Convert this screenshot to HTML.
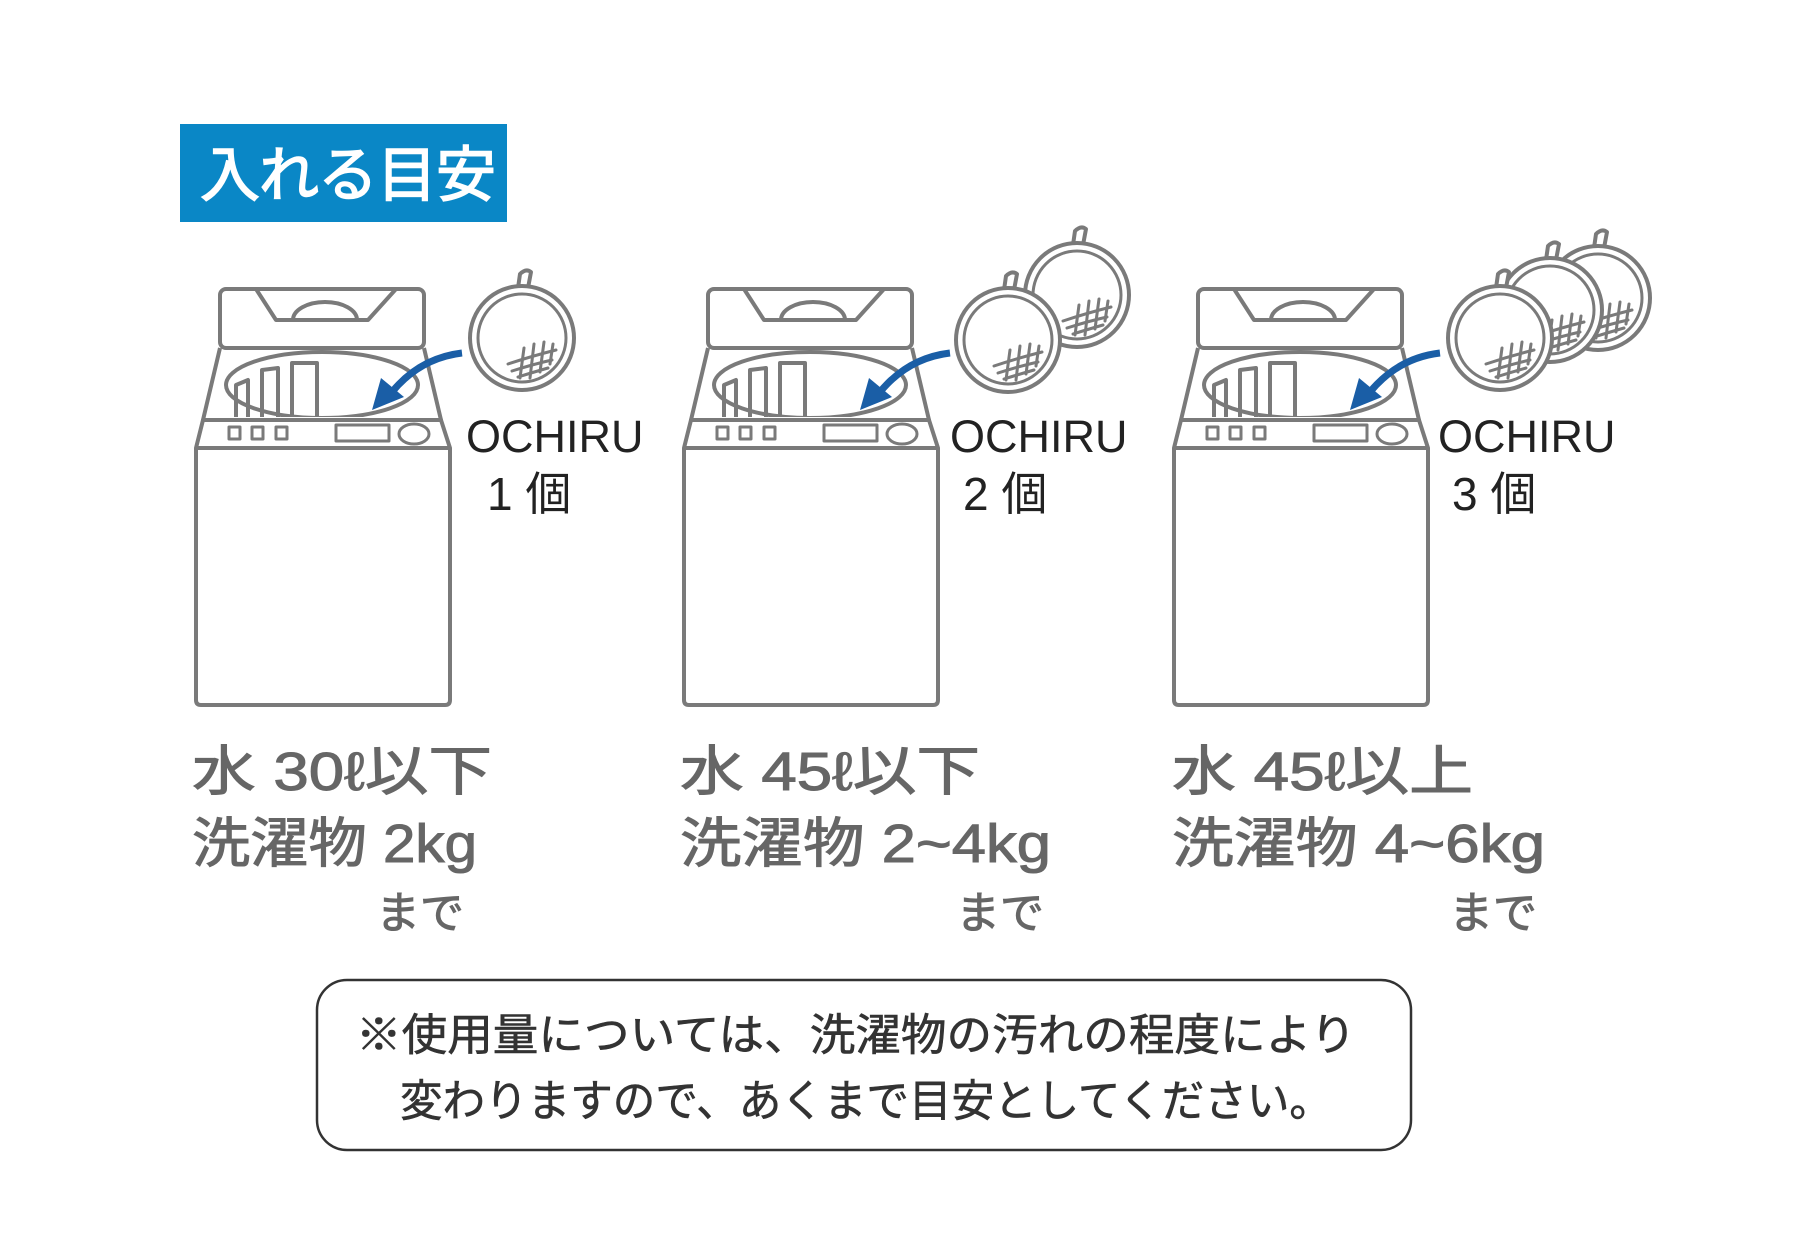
<!DOCTYPE html>
<html><head><meta charset="utf-8"><style>
html,body{margin:0;padding:0;background:#fff}
svg{display:block}
text{font-family:"Liberation Sans","Noto Sans CJK JP",sans-serif}
</style></head><body>
<svg width="1800" height="1257" viewBox="0 0 1800 1257" xmlns="http://www.w3.org/2000/svg">
<defs>
<clipPath id="tc"><rect x="0" y="0" width="1800" height="417"/></clipPath>
<g id="ball">
  <path d="M-4,-50 L-2,-64 Q4,-70 9,-66 L6,-50" fill="#fff" stroke="#7a7a7a" stroke-width="4" stroke-linejoin="round"/>
  <circle r="52" fill="#fff" stroke="#7a7a7a" stroke-width="4"/>
  <circle r="44" fill="#fff" stroke="#7a7a7a" stroke-width="3"/>
  <g stroke="#7a7a7a" stroke-width="3" fill="none" stroke-linecap="round">
    <path d="M-14,26 Q10,18 34,12"/>
    <path d="M-10,33 Q12,26 30,22"/>
    <path d="M-4,39 Q12,34 26,30"/>
    <path d="M2,10 L-2,40"/>
    <path d="M12,6 L8,40"/>
    <path d="M22,4 L18,34"/>
    <path d="M31,6 L28,26"/>
  </g>
</g>
<g id="washer" fill="none" stroke="#7a7a7a" stroke-width="4" stroke-linejoin="round">
  <rect x="220" y="289" width="204" height="59" rx="6" fill="#fff"/>
  <polyline points="256,289 276,320 368,320 396,289"/>
  <path d="M293,320 A32 18 0 0 1 357,320"/>
  <path d="M220,348 L203,420 M424,348 L441,420"/>
  <g clip-path="url(#tc)">
    <ellipse cx="322" cy="385" rx="96" ry="33"/>
  </g>
  <path d="M236,417 L236,385 L248,380 L248,417"/>
  <path d="M262,417 L262,370 L278,368 L278,417"/>
  <path d="M292,417 L292,363 L317,363 L317,417"/>
  <path d="M203,420 L441,420 L450,448 L450,700 Q450,705 445,705 L201,705 Q196,705 196,700 L196,448 Z"/>
  <line x1="196" y1="448" x2="450" y2="448"/>
  <rect x="229" y="427" width="11" height="12" stroke-width="3"/>
  <rect x="252" y="427" width="11" height="12" stroke-width="3"/>
  <rect x="276" y="427" width="11" height="12" stroke-width="3"/>
  <rect x="336" y="425" width="53" height="16" stroke-width="3"/>
  <ellipse cx="414" cy="434" rx="15" ry="10" stroke-width="3"/>
</g>
<g id="arrow">
  <path d="M462,353 Q420,358 392,392" fill="none" stroke="#1a5ea6" stroke-width="7"/>
  <polygon points="372,410 381,378 404,397" fill="#1a5ea6"/>
</g>
</defs>

<rect x="180" y="124" width="327" height="98" fill="#0a87c6"/>
<text x="200" y="196" font-size="60" fill="#fff" stroke="#fff" stroke-width="1.5" letter-spacing="-1">入れる目安</text>

<use href="#washer"/>
<use href="#ball" x="522" y="338"/>
<use href="#arrow"/>
<text x="466" y="452" font-size="45" fill="#222">OCHIRU</text>
<text x="487" y="510" font-size="46" fill="#222">1 個</text>

<use href="#washer" x="488"/>
<use href="#ball" x="1077" y="295"/>
<use href="#ball" x="1008" y="340"/>
<use href="#arrow" x="488"/>
<text x="950" y="452" font-size="45" fill="#222">OCHIRU</text>
<text x="963" y="510" font-size="46" fill="#222">2 個</text>

<use href="#washer" x="978"/>
<use href="#ball" x="1598" y="298"/>
<use href="#ball" x="1550" y="310"/>
<use href="#ball" x="1500" y="338"/>
<use href="#arrow" x="978"/>
<text x="1438" y="452" font-size="45" fill="#222">OCHIRU</text>
<text x="1452" y="510" font-size="46" fill="#222">3 個</text>

<g fill="#666" stroke="#666" stroke-width="1" font-size="54">
  <text x="192" y="790" textLength="300" lengthAdjust="spacingAndGlyphs">水 30ℓ以下</text>
  <text x="192" y="862" textLength="285" lengthAdjust="spacingAndGlyphs">洗濯物 2kg</text>
  <text x="376" y="928" font-size="44">まで</text>
  <text x="680" y="790" textLength="300" lengthAdjust="spacingAndGlyphs">水 45ℓ以下</text>
  <text x="680" y="862" textLength="371" lengthAdjust="spacingAndGlyphs">洗濯物 2~4kg</text>
  <text x="956" y="928" font-size="44">まで</text>
  <text x="1172" y="790" textLength="301" lengthAdjust="spacingAndGlyphs">水 45ℓ以上</text>
  <text x="1172" y="862" textLength="373" lengthAdjust="spacingAndGlyphs">洗濯物 4~6kg</text>
  <text x="1449" y="928" font-size="44">まで</text>
</g>

<rect x="317" y="980" width="1094" height="170" rx="30" fill="#fff" stroke="#333" stroke-width="2.5"/>
<text x="356" y="1050" font-size="44" fill="#333" stroke="#333" stroke-width="0.6" textLength="1000" lengthAdjust="spacingAndGlyphs">※使用量については、洗濯物の汚れの程度により</text>
<text x="400" y="1116" font-size="44" fill="#333" stroke="#333" stroke-width="0.6" textLength="932" lengthAdjust="spacingAndGlyphs">変わりますので、あくまで目安としてください。</text>
</svg>
</body></html>
